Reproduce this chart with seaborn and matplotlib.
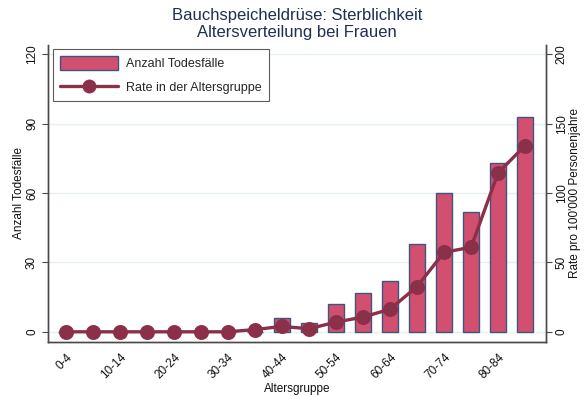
import matplotlib
matplotlib.use("Agg")
import matplotlib.pyplot as plt
from matplotlib.lines import Line2D
from matplotlib.patches import Patch
import numpy as np
import pandas as pd
import seaborn as sns

# Age groups, deaths and rate per 100'000 person-years (women)
age_groups = ["0-4", "5-9", "10-14", "15-19", "20-24", "25-29", "30-34", "35-39",
              "40-44", "45-49", "50-54", "55-59", "60-64", "65-69", "70-74",
              "75-79", "80-84", "85+"]
deaths = [0, 0, 0, 0, 0, 0, 0, 0, 6, 4, 12, 17, 22, 38, 60, 52, 73, 93]
rates = [0, 0, 0, 0, 0, 0, 0, 1.6, 3.9, 2.2, 7.0, 10.6, 16.3, 32.6, 57.3, 61.0, 114.6, 134.3]
left_ticks = [0, 30, 60, 90, 120]
right_ticks = [0, 50, 100, 150, 200]

df = pd.DataFrame({"Altersgruppe": age_groups, "Todesfaelle": deaths, "Rate": rates})

sns.set_theme(style="white")
plt.rcParams["font.family"] = ["Liberation Sans", "DejaVu Sans"]

bar_fill = "#d24f6f"
bar_edge = "#3b5680"
line_col = "#8c3049"
axis_col = "#4a4a4a"
grid_col = "#e6eff2"
text_col = "#111111"

fig = plt.figure(figsize=(5.87, 3.96), dpi=100)
ax = fig.add_axes([0.0813, 0.137, 0.8487, 0.749])

sns.barplot(data=df, x="Altersgruppe", y="Todesfaelle", ax=ax, color=bar_fill,
            saturation=1, width=0.6, edgecolor=bar_edge, linewidth=1.0, zorder=2)

ax2 = ax.twinx()
sns.pointplot(data=df, x="Altersgruppe", y="Rate", ax=ax2, color=line_col,
              markers="o", markersize=9, linewidth=2.4, errorbar=None, zorder=3)

ax.set_xlim(-0.67, 17.77)
ax.set_ylim(-4.3, 124)
ax2.set_ylim(-7.17, 206.7)

ax.set_yticks(left_ticks)
ax.set_yticklabels([str(t) for t in left_ticks], rotation=90, va="center", fontsize=8.5)
ax2.set_yticks(right_ticks)
ax2.set_yticklabels([str(t) for t in right_ticks], rotation=90, va="center", fontsize=8.5)

xt = list(range(0, len(age_groups), 2))
ax.set_xticks(xt)
ax.set_xticklabels([age_groups[i] for i in xt], rotation=45, ha="right",
                   rotation_mode="anchor", fontsize=8.5)

for a in (ax, ax2):
    a.tick_params(axis="both", length=4, width=0.8, color=axis_col, colors=text_col, pad=3)
    a.spines["top"].set_visible(False)
    for s in ("left", "right", "bottom"):
        a.spines[s].set_color(axis_col)
        a.spines[s].set_linewidth(1.0)

ax.yaxis.grid(True, color=grid_col, linewidth=1.0, zorder=0)
ax.set_axisbelow(True)

ax.set_xlabel("Altersgruppe", fontsize=8.5, color=text_col, labelpad=1)
ax.set_ylabel("Anzahl Todesfälle", fontsize=8.5, color=text_col, labelpad=1)
ax2.set_ylabel("Rate pro 100'000 Personenjahre", fontsize=8.5, color=text_col, labelpad=1)

fig.suptitle("Bauchspeicheldrüse: Sterblichkeit\nAltersverteilung bei Frauen",
             x=0.506, y=0.98, fontsize=12, color="#1f2f52", linespacing=1.2)

handles = [Patch(facecolor=bar_fill, edgecolor=bar_edge, linewidth=1.0),
           Line2D([0], [0], color=line_col, linewidth=2.4, marker="o", markersize=9)]
leg = ax2.legend(handles, ["Anzahl Todesfälle", "Rate in der Altersgruppe"],
                 loc="upper left", bbox_to_anchor=(0.011, 0.986), borderaxespad=0,
                 fontsize=9, frameon=True, fancybox=False, edgecolor="#333333",
                 handlelength=4.6, handleheight=1.3, borderpad=0.55,
                 labelspacing=0.8, handletextpad=0.7)
leg.get_frame().set_linewidth(0.8)

fig.savefig("out.png", dpi=100)
